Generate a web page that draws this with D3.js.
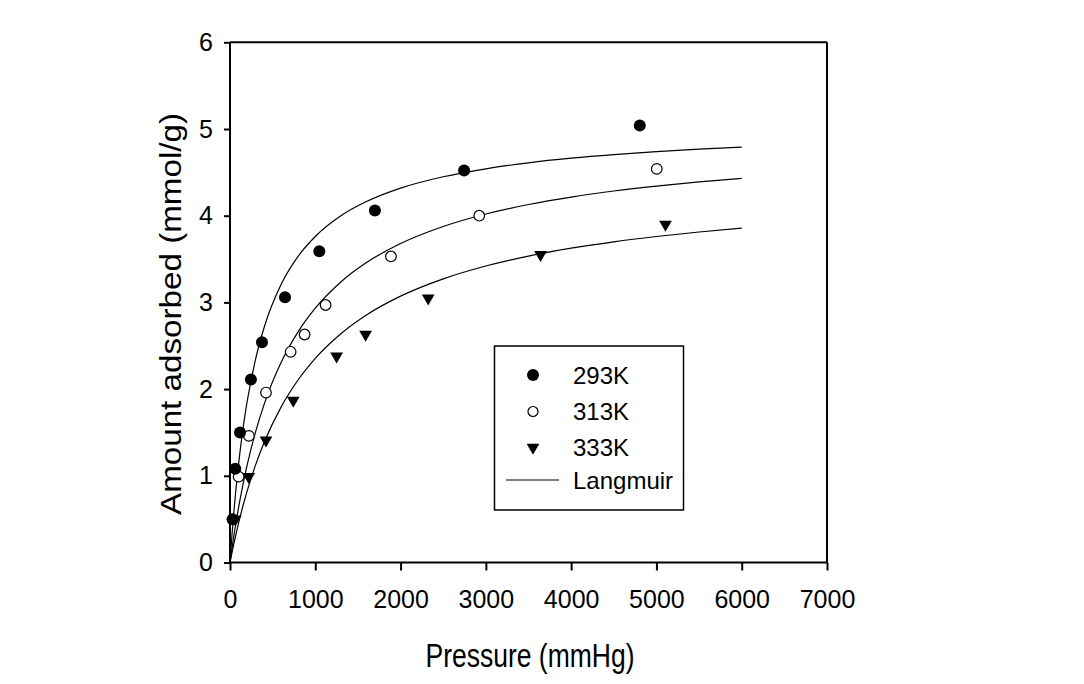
<!DOCTYPE html>
<html><head><meta charset="utf-8">
<script src="https://cdn.jsdelivr.net/npm/d3@7"></script>
<style>
html,body{margin:0;padding:0;background:#fff;}
svg text{font-family:"Liberation Sans",Arial,sans-serif;fill:#000;}
</style></head>
<body><svg id="c" width="1084" height="684"></svg>
<script>
// Measured data
const p293 = [30, 62, 117, 245, 375, 645, 1047, 1699, 2745, 4805];
const q293 = [0.50, 1.08, 1.50, 2.11, 2.54, 3.06, 3.59, 4.06, 4.52, 5.04];
const p313 = [101, 222, 422, 711, 875, 1121, 1887, 2922, 5004];
const q313 = [0.99, 1.46, 1.96, 2.43, 2.63, 2.97, 3.53, 4.00, 4.54];
const p333 = [62, 219, 422, 742, 1250, 1590, 2324, 3641, 5106];
const q333 = [0.50, 0.99, 1.41, 1.87, 2.38, 2.63, 3.05, 3.55, 3.90];
// Langmuir fit curves
const pFit = [0, 25, 50, 100, 150, 200, 300, 400, 600, 800, 1000, 1300, 1600, 2000, 2500, 3000, 3500, 4000, 4500, 5000, 5500, 6000];
const fit293 = [0, 0.340, 0.637, 1.132, 1.527, 1.851, 2.347, 2.711, 3.209, 3.533, 3.760, 3.999, 4.163, 4.318, 4.449, 4.541, 4.610, 4.663, 4.705, 4.739, 4.767, 4.790];
const fit313 = [0, 0.174, 0.337, 0.631, 0.889, 1.119, 1.507, 1.824, 2.309, 2.663, 2.933, 3.236, 3.459, 3.679, 3.876, 4.020, 4.129, 4.215, 4.285, 4.342, 4.390, 4.430];
const fit333 = [0, 0.123, 0.238, 0.452, 0.646, 0.821, 1.126, 1.384, 1.795, 2.108, 2.355, 2.639, 2.855, 3.072, 3.272, 3.420, 3.534, 3.625, 3.699, 3.760, 3.812, 3.856];
const xTicks = [0, 1000, 2000, 3000, 4000, 5000, 6000, 7000];
const yTicks = [0, 1, 2, 3, 4, 5, 6];
const legendLabels = ["293K", "313K", "333K", "Langmuir"];
const xTitle = "Pressure (mmHg)";
const yTitle = "Amount adsorbed (mmol/g)";

const svg = d3.select("#c");
const x = d3.scaleLinear().domain([0, 7000]).range([230, 827]);
const y = d3.scaleLinear().domain([0, 6]).range([562.5, 42.3]);

// frame
svg.append("line").attr("x1", x(0)).attr("x2", x(7000)).attr("y1", y(6)).attr("y2", y(6)).attr("stroke", "#000").attr("stroke-width", 2);
svg.append("line").attr("x1", x(7000)).attr("x2", x(7000)).attr("y1", y(6)).attr("y2", y(0)).attr("stroke", "#000").attr("stroke-width", 2);

const xAxis = svg.append("g").attr("transform", `translate(0,${y(0)})`)
  .call(d3.axisBottom(x).tickValues(xTicks).tickSize(8).tickPadding(20).tickFormat(d3.format("d")));
const yAxis = svg.append("g").attr("transform", `translate(${x(0)},0)`)
  .call(d3.axisLeft(y).tickValues(yTicks).tickSize(6).tickPadding(11).tickFormat(d3.format("d")));
[xAxis, yAxis].forEach(g => {
  g.select(".domain").attr("stroke", "#000").attr("stroke-width", 2);
  g.selectAll(".tick line").attr("stroke", "#000").attr("stroke-width", 2);
  g.selectAll(".tick text").attr("font-size", 25).attr("fill", "#000")
    .style("font-family", '"Liberation Sans",Arial,sans-serif');
});
xAxis.select(".domain").attr("d", `M${x(0)},0H${x(7000)}`);
yAxis.select(".domain").attr("d", `M0,${y(0)}V${y(6)}`);

// curves
const line = d3.line().x(d => x(d[0])).y(d => y(d[1])).curve(d3.curveMonotoneX);
[fit293, fit313, fit333].forEach(f => {
  svg.append("path").datum(pFit.map((p, i) => [p, f[i]]))
    .attr("d", line).attr("fill", "none").attr("stroke", "#000").attr("stroke-width", 1.2);
});

// markers
const tri = d3.symbol().type(d3.symbolTriangle).size(70);
function filledCircles(g, ps, qs) {
  g.selectAll(null).data(ps.map((p, i) => [p, qs[i]])).join("circle")
    .attr("cx", d => x(d[0])).attr("cy", d => y(d[1])).attr("r", 6).attr("fill", "#000");
}
function openCircles(g, ps, qs) {
  g.selectAll(null).data(ps.map((p, i) => [p, qs[i]])).join("circle")
    .attr("cx", d => x(d[0])).attr("cy", d => y(d[1])).attr("r", 5.3)
    .attr("fill", "#fff").attr("stroke", "#000").attr("stroke-width", 1.2);
}
function triangles(g, ps, qs) {
  g.selectAll(null).data(ps.map((p, i) => [p, qs[i]])).join("path")
    .attr("d", tri).attr("transform", d => `translate(${x(d[0])},${y(d[1])}) rotate(180)`).attr("fill", "#000");
}
const gm = svg.append("g");
triangles(gm, p333, q333);
openCircles(gm, p313, q313);
filledCircles(gm, p293, q293);

// legend
const lg = svg.append("g");
lg.append("rect").attr("x", 494.5).attr("y", 346).attr("width", 189).attr("height", 164)
  .attr("fill", "#fff").attr("stroke", "#000").attr("stroke-width", 1.5);
const rowsY = [375, 411.5, 447.5, 480];
lg.append("circle").attr("cx", 533).attr("cy", rowsY[0]).attr("r", 6).attr("fill", "#000");
lg.append("circle").attr("cx", 533).attr("cy", rowsY[1]).attr("r", 5).attr("fill", "#fff").attr("stroke", "#000").attr("stroke-width", 1.2);
lg.append("path").attr("d", tri).attr("transform", `translate(533,${rowsY[2]}) rotate(180)`).attr("fill", "#000");
lg.append("line").attr("x1", 506).attr("x2", 559).attr("y1", rowsY[3]).attr("y2", rowsY[3]).attr("stroke", "#000").attr("stroke-width", 1.2);
legendLabels.forEach((t, i) => {
  lg.append("text").attr("x", 573).attr("y", rowsY[i]).attr("dy", "0.36em").attr("font-size", 24).text(t);
});

// titles
svg.append("text").attr("x", 530).attr("y", 667).attr("text-anchor", "middle")
  .attr("font-size", 33).attr("textLength", 209).attr("lengthAdjust", "spacingAndGlyphs").text(xTitle);
svg.append("text").attr("transform", "translate(181,314) rotate(-90)").attr("text-anchor", "middle")
  .attr("font-size", 29).attr("textLength", 402).attr("lengthAdjust", "spacingAndGlyphs").text(yTitle);
</script></body></html>
